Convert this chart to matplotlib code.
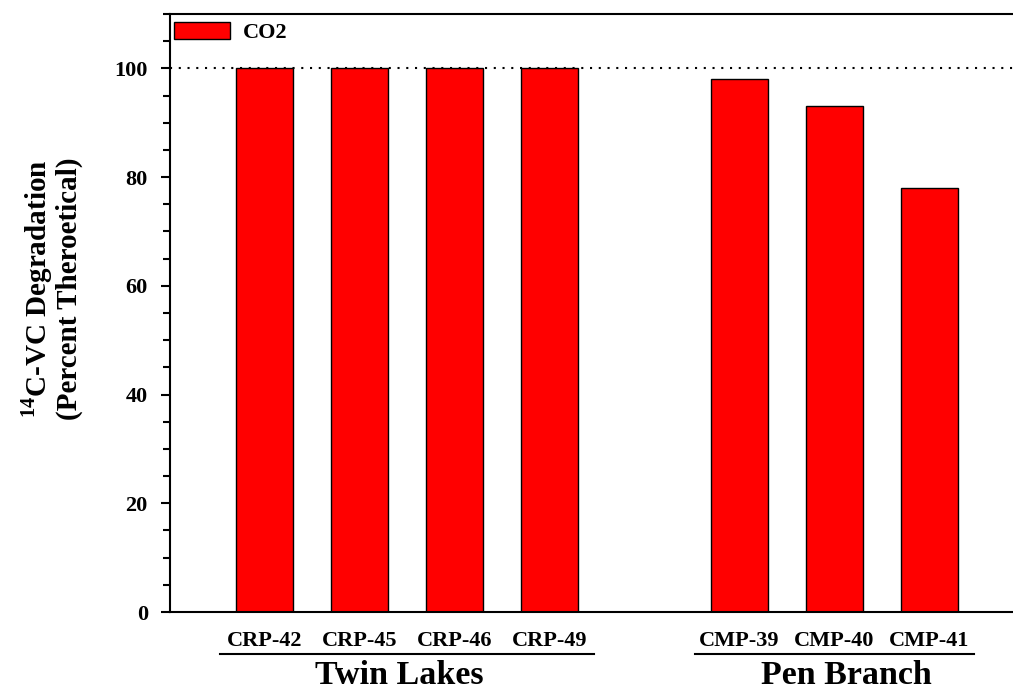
import matplotlib
matplotlib.use("Agg")
import matplotlib.pyplot as plt

plt.rcParams["font.family"] = ["Liberation Serif", "DejaVu Serif"]
plt.rcParams["font.weight"] = "bold"
plt.rcParams["mathtext.fontset"] = "custom"
plt.rcParams["mathtext.rm"] = "Liberation Serif:bold"
plt.rcParams["mathtext.bf"] = "Liberation Serif:bold"

twin_labels = ["CRP-42", "CRP-45", "CRP-46", "CRP-49"]
twin_values = [100, 100, 100, 100]
pen_labels = ["CMP-39", "CMP-40", "CMP-41"]
pen_values = [98, 93, 78]
group_names = ["Twin Lakes", "Pen Branch"]

twin_pos = [0, 1, 2, 3]
pen_pos = [5, 6, 7]

fig = plt.figure(figsize=(10.13, 6.92), dpi=100)
ax = fig.add_axes([170 / 1013, 80 / 692, 843 / 1013, 598 / 692])

ax.bar(twin_pos + pen_pos, twin_values + pen_values, width=0.6,
       color="#ff0000", edgecolor="black", linewidth=1.0, label="CO2", zorder=2)
ax.axhline(100, color="black", linestyle=(0, (1, 3.2)), linewidth=1.5, zorder=3)

ax.set_xlim(-1, 7.88)
ax.set_ylim(0, 110)
ax.set_yticks([0, 20, 40, 60, 80, 100])
ax.set_yticks(range(5, 111, 5), minor=True)
ax.tick_params(axis="y", which="major", length=6.5, width=1.5, labelsize=16, pad=9.5)
ax.tick_params(axis="y", which="minor", length=5, width=1.5)
for lab in ax.get_yticklabels():
    lab.set_fontweight("bold")

ax.set_xticks(twin_pos + pen_pos)
ax.set_xticklabels(twin_labels + pen_labels, fontsize=16, fontweight="bold")
ax.tick_params(axis="x", length=0, pad=14)

ax.spines["right"].set_visible(False)
for side in ["left", "bottom", "top"]:
    ax.spines[side].set_linewidth(1.5)

# group underlines and names
trans = ax.get_xaxis_transform()
groups = [twin_pos, pen_pos]
name_x = [1.42, 6.12]
for name, pos, nx in zip(group_names, groups, name_x):
    ax.plot([pos[0] - 0.47, pos[-1] + 0.47], [-0.070, -0.070], color="black",
            linewidth=1.5, transform=trans, clip_on=False)
    ax.text(nx, -0.107, name, transform=trans,
            ha="center", va="center", fontsize=24.5, fontweight="bold")

fig.text(51 / 1013, 1 - 289 / 692,
         "$^{14}$C-VC Degradation\n(Percent Theroetical)",
         rotation=90, ha="center", va="center", fontsize=21,
         fontweight="bold", multialignment="center", linespacing=1.05)

ax.legend(loc="upper left", bbox_to_anchor=(0.0, 0.994), frameon=False,
          borderpad=0.2, borderaxespad=0, handlelength=2.5, handleheight=0.8,
          handletextpad=0.6, prop={"size": 16, "weight": "bold"})

fig.savefig("out.png", dpi=100)
